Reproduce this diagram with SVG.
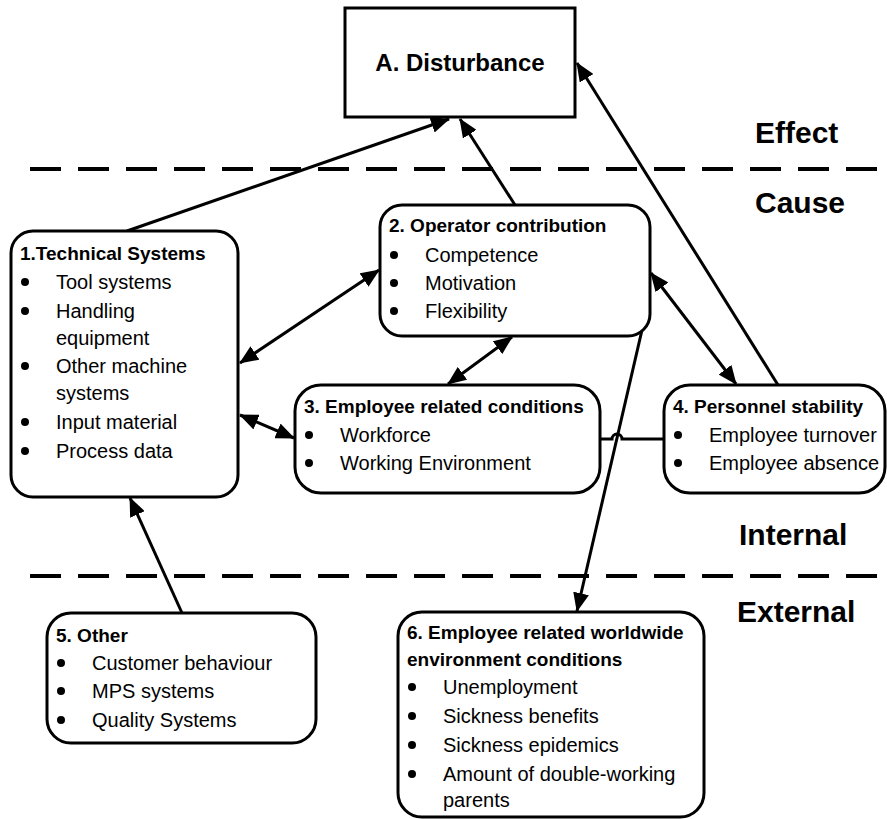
<svg xmlns="http://www.w3.org/2000/svg" width="887" height="819" viewBox="0 0 887 819">
  <style>
    .box { fill: #fff; stroke: #000; stroke-width: 3; }
    .t { font-family: "Liberation Sans", Arial, sans-serif; font-size: 20px; fill: #000; }
    .h { font-family: "Liberation Sans", Arial, sans-serif; font-size: 19px; font-weight: bold; fill: #000; }
    .zone { font-family: "Liberation Sans", Arial, sans-serif; font-size: 30px; font-weight: bold; fill: #000; }
    .sep { stroke: #000; stroke-width: 4; stroke-dasharray: 31 17; fill: none; }
    .c { stroke: #000; stroke-width: 3; fill: none; }
    .one { marker-end: url(#ah); }
    .two { marker-start: url(#ah); marker-end: url(#ah); }
  </style>
  <defs>
    <marker id="ah" viewBox="0 0 19 16" refX="18" refY="8" markerWidth="19" markerHeight="16" markerUnits="userSpaceOnUse" orient="auto-start-reverse">
      <path d="M0,0 L19,8 L0,16 z" fill="#000"/>
    </marker>
  </defs>
  <rect width="887" height="819" fill="#fff"/>

  <!-- zone separators and labels -->
  <g id="zones">
    <line class="sep" x1="30" y1="169" x2="887" y2="169"/>
    <line class="sep" x1="30" y1="576" x2="887" y2="576"/>
    <text class="zone" x="755" y="143">Effect</text>
    <text class="zone" x="755" y="213">Cause</text>
    <text class="zone" x="739" y="545">Internal</text>
    <text class="zone" x="737" y="622">External</text>
  </g>

  <!-- connectors -->
  <g id="connectors">
    <line class="c one" x1="127" y1="231" x2="449" y2="119"/>
    <line class="c one" x1="515" y1="205" x2="460" y2="119"/>
    <line class="c one" x1="778" y1="385" x2="577" y2="63"/>
    <line class="c two" x1="240" y1="363" x2="379" y2="270"/>
    <line class="c two" x1="240" y1="415" x2="294" y2="438"/>
    <line class="c two" x1="512" y1="337" x2="448" y2="384"/>
    <line class="c two" x1="651" y1="273" x2="736" y2="384"/>
    <path class="c" d="M600,439 H612 a5,5 0 0 1 10,0 H664"/>
    <line class="c one" x1="642" y1="330" x2="577" y2="611"/>
    <line class="c one" x1="182" y1="613" x2="130" y2="498"/>
  </g>

  <g id="nodeA">
    <rect class="box" x="345" y="8" width="230" height="109"/>
    <text class="h" x="460" y="71" text-anchor="middle" style="font-size:24px">A. Disturbance</text>
  </g>

  <g id="node1">
    <rect class="box" x="11" y="231" width="227" height="266" rx="22"/>
    <text class="h" x="20" y="260">1.Technical Systems</text>
    <g fill="#000">
      <circle cx="25" cy="282" r="4"/>
      <circle cx="25" cy="311" r="4"/>
      <circle cx="25" cy="366" r="4"/>
      <circle cx="25" cy="422" r="4"/>
      <circle cx="25" cy="451" r="4"/>
    </g>
    <text class="t" x="56" y="289">Tool systems</text>
    <text class="t" x="56" y="318">Handling</text>
    <text class="t" x="56" y="345">equipment</text>
    <text class="t" x="56" y="373">Other machine</text>
    <text class="t" x="56" y="400">systems</text>
    <text class="t" x="56" y="429">Input material</text>
    <text class="t" x="56" y="458">Process data</text>
  </g>

  <g id="node2">
    <rect class="box" x="380" y="205" width="270" height="131" rx="22"/>
    <text class="h" x="389" y="232">2. Operator contribution</text>
    <g fill="#000">
      <circle cx="394" cy="255" r="4"/>
      <circle cx="394" cy="283" r="4"/>
      <circle cx="394" cy="311" r="4"/>
    </g>
    <text class="t" x="425" y="262">Competence</text>
    <text class="t" x="425" y="290">Motivation</text>
    <text class="t" x="425" y="318">Flexibility</text>
  </g>

  <g id="node3">
    <rect class="box" x="295" y="385" width="305" height="108" rx="26"/>
    <text class="h" x="304" y="413">3. Employee related conditions</text>
    <g fill="#000">
      <circle cx="309" cy="435" r="4"/>
      <circle cx="309" cy="463" r="4"/>
    </g>
    <text class="t" x="340" y="442">Workforce</text>
    <text class="t" x="340" y="470">Working Environment</text>
  </g>

  <g id="node4">
    <rect class="box" x="664" y="385" width="221" height="108" rx="26"/>
    <text class="h" x="673" y="413">4. Personnel stability</text>
    <g fill="#000">
      <circle cx="678" cy="435" r="4"/>
      <circle cx="678" cy="463" r="4"/>
    </g>
    <text class="t" x="709" y="442">Employee turnover</text>
    <text class="t" x="709" y="470">Employee absence</text>
  </g>

  <g id="node5">
    <rect class="box" x="47" y="613" width="269" height="130" rx="24"/>
    <text class="h" x="56" y="642">5. Other</text>
    <g fill="#000">
      <circle cx="61" cy="663" r="4"/>
      <circle cx="61" cy="691" r="4"/>
      <circle cx="61" cy="720" r="4"/>
    </g>
    <text class="t" x="92" y="670">Customer behaviour</text>
    <text class="t" x="92" y="698">MPS systems</text>
    <text class="t" x="92" y="727">Quality Systems</text>
  </g>

  <g id="node6">
    <rect class="box" x="398" y="612" width="306" height="205" rx="24"/>
    <text class="h" x="407" y="639">6. Employee related worldwide</text>
    <text class="h" x="407" y="666">environment conditions</text>
    <g fill="#000">
      <circle cx="412" cy="687" r="4"/>
      <circle cx="412" cy="716" r="4"/>
      <circle cx="412" cy="745" r="4"/>
      <circle cx="412" cy="774" r="4"/>
    </g>
    <text class="t" x="443" y="694">Unemployment</text>
    <text class="t" x="443" y="723">Sickness benefits</text>
    <text class="t" x="443" y="752">Sickness epidemics</text>
    <text class="t" x="443" y="781">Amount of double-working</text>
    <text class="t" x="443" y="807">parents</text>
  </g>
</svg>
